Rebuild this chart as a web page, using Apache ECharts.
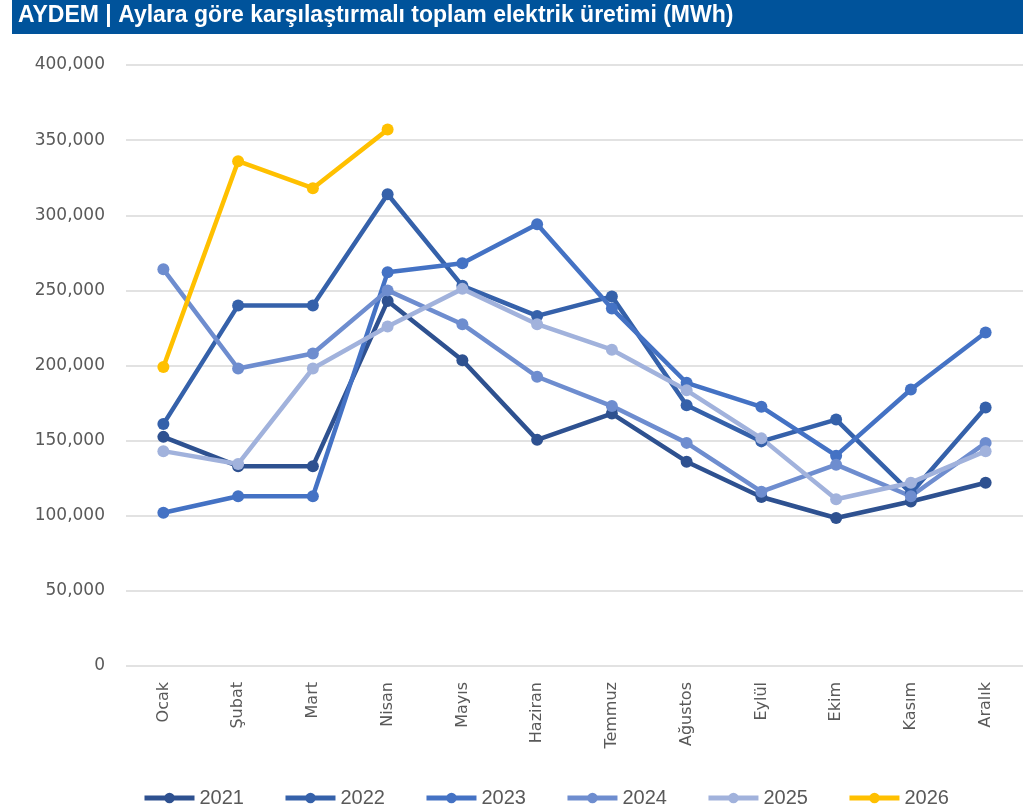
<!DOCTYPE html>
<html>
<head>
<meta charset="utf-8">
<script src="https://cdn.jsdelivr.net/npm/echarts@6/dist/echarts.min.js"></script>
<style>
html,body{margin:0;padding:0;background:#fff;}
#c{width:1023px;height:809px;}
</style>
</head>
<body>
<div id="c"></div>
<script>
const months = ['Ocak','Şubat','Mart','Nisan','Mayıs','Haziran','Temmuz','Ağustos','Eylül','Ekim','Kasım','Aralık'];
const y2021 = [152500,133000,133000,243000,203500,150500,168000,136000,112500,98500,109500,122000];
const y2022 = [161000,240000,240000,314000,253000,233000,246000,173500,149500,164000,115000,172000];
const y2023 = [102000,113000,113000,262000,268000,294000,238000,188500,172500,140000,184000,222000];
const y2024 = [264000,198000,208000,250000,227500,192500,173000,148500,116000,134000,113000,148500];
const y2025 = [143000,134500,198000,226000,251000,227500,210500,183500,151500,111000,122000,143000];
const y2026 = [199000,336000,318000,357000];
const yTicks = [0,50000,100000,150000,200000,250000,300000,350000,400000];

const seriesDefs = [
  {name:'2021', data:y2021, color:'#2E5190'},
  {name:'2022', data:y2022, color:'#3561AA'},
  {name:'2023', data:y2023, color:'#4472C4'},
  {name:'2024', data:y2024, color:'#6E8DCF'},
  {name:'2025', data:y2025, color:'#A1B2DC'},
  {name:'2026', data:y2026, color:'#FFC000'}
];

const chart = echarts.init(document.getElementById('c'), null, {renderer:'canvas'});
chart.setOption({
  animation:false,
  graphic:[
    {type:'rect', shape:{x:12,y:0,width:1011,height:34}, style:{fill:'#00539B'}},
    {type:'text', left:18, top:4, style:{text:'AYDEM | Aylara göre karşılaştırmalı toplam elektrik üretimi (MWh)', fill:'#fff', font:'bold 23px "Liberation Sans", Arial, sans-serif'}}
  ],
  grid:{left:126, right:0, top:65, bottom:143, containLabel:false},
  xAxis:{
    type:'category', data:months, boundaryGap:true,
    axisLine:{show:false}, axisTick:{show:false},
    axisLabel:{rotate:90, color:'#595959', fontFamily:'DejaVu Sans', fontSize:16, margin:16, interval:0}
  },
  yAxis:{
    type:'value', min:yTicks[0], max:yTicks[yTicks.length-1], interval:50000,
    axisLine:{show:false}, axisTick:{show:false},
    splitLine:{lineStyle:{color:'#D9D9D9', width:1.5}},
    axisLabel:{color:'#595959', fontFamily:'DejaVu Sans', fontSize:17, margin:21,
      formatter:v=>v.toLocaleString('en-US')}
  },
  legend:{
    left:137, top:783, itemWidth:50, itemHeight:13, itemGap:39,
    lineStyle:{width:5},
    textStyle:{color:'#595959', fontFamily:'"Liberation Sans Narrow","Liberation Sans",sans-serif', fontSize:20},
    data:seriesDefs.map(s=>s.name)
  },
  series:seriesDefs.map(s=>({
    name:s.name, type:'line', data:s.data,
    symbol:'circle', symbolSize:12,
    lineStyle:{width:4.5, color:s.color},
    itemStyle:{color:s.color},
    emphasis:{disabled:true}
  }))
});
</script>
</body>
</html>
